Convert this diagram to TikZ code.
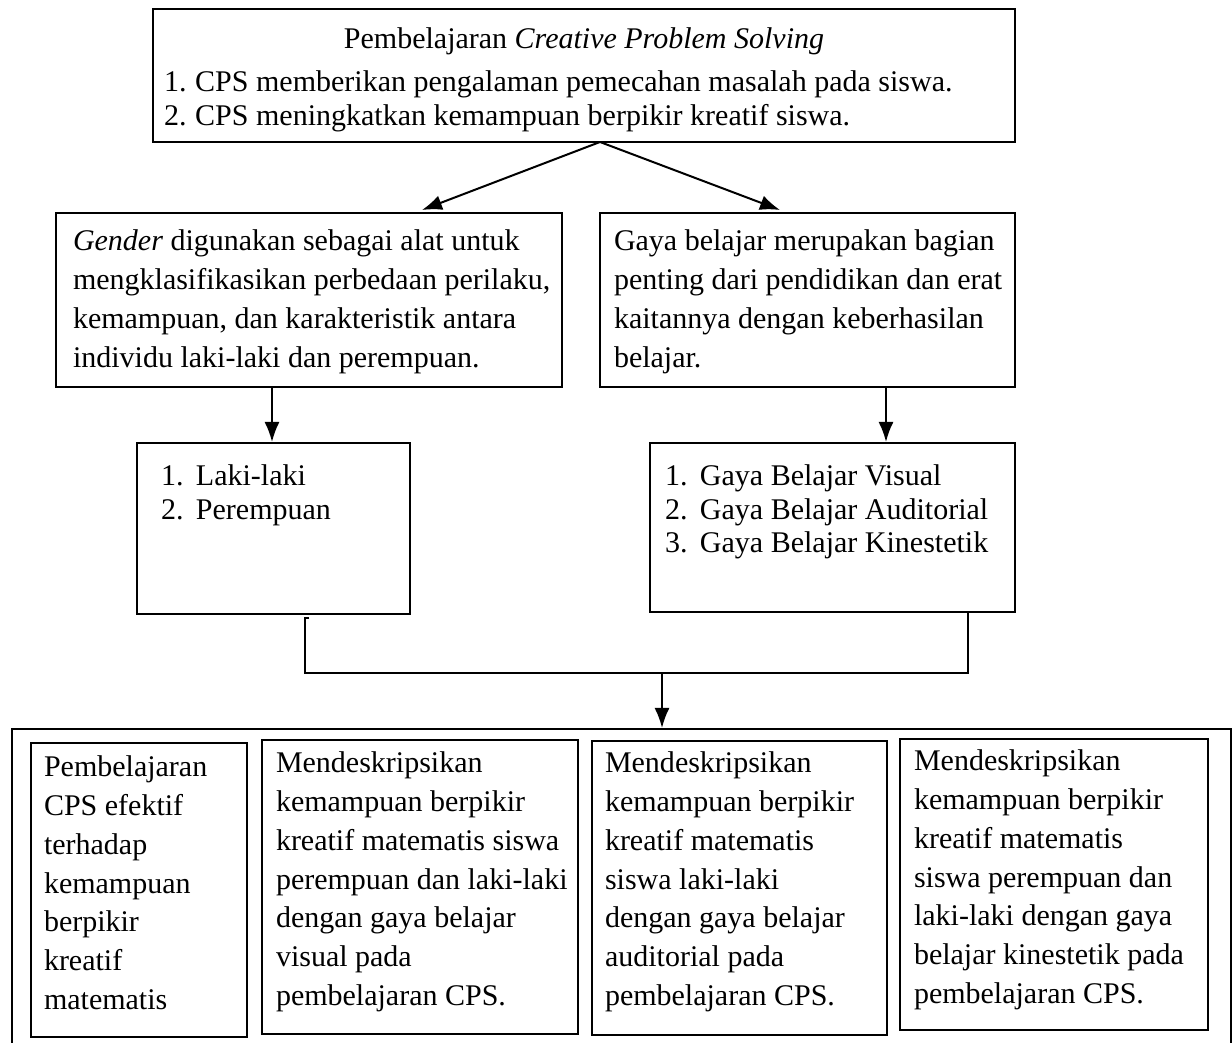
\documentclass[tikz,border=0pt]{standalone}
\usepackage{fontspec}
\setmainfont{Liberation Serif}
\usetikzlibrary{
  calc,
  positioning,
  arrows.meta,
  fit
}
\tikzset{>={Latex[length=8pt,width=6pt]}}
\tikzset{
  box/.style={draw, line width=0.8pt, inner sep=0pt},
  txt/.style={anchor=north west, inner sep=0pt, align=left, font=\fontsize{12}{15.5}\selectfont},
  lst/.style={txt, font=\fontsize{12}{13.4}\selectfont}
}
\newcommand{\nr}[1]{\makebox[12.5pt][l]{#1}}

\begin{document}
\begin{tikzpicture}[x=0.4pt, y=-0.4pt, line width=0.8pt]
      \useasboundingbox (0,0) rectangle (1232,1043);
      \clip (0,0) rectangle (1232,1043);

      % top box
      \node[box, fit={(153,9) (1015,142)}] (cps) {};
      \node[anchor=base, inner sep=0pt, font=\fontsize{12}{13.4}\selectfont] (cpstitle) at (584,49) {Pembelajaran \textit{Creative Problem Solving}};
      \node[lst] (cpslist) at (163,70) {\nr{1.}CPS memberikan pengalaman pemecahan masalah pada siswa.\\
        \nr{2.}CPS meningkatkan kemampuan berpikir kreatif siswa.};

      % gender + gaya belajar
      \node[box, fit={(56,213) (562,387)}] (gender) {};
      \node[txt] (gendertext) at (72,229) {\textit{Gender} digunakan sebagai alat untuk\\
        mengklasifikasikan perbedaan perilaku,\\
        kemampuan, dan karakteristik antara\\
        individu laki-laki dan perempuan.};
      \node[box, fit={(600,213) (1015,387)}] (gaya) {};
      \node[txt] (gayatext) at (613,229) {Gaya belajar merupakan bagian\\
        penting dari pendidikan dan erat\\
        kaitannya dengan keberhasilan\\
        belajar.};

      \coordinate (fork) at (600,142);
      \coordinate (tipl) at (422,210);
      \coordinate (tipr) at (780,210);
      \draw[->] (fork) -- (tipl);
      \draw[->] (fork) -- (tipr);

      % lists
      \node[box, fit={(137,443) (410,614)}] (jenis) {};
      \node[lst] (jenistext) at (160,464) {\nr{1.}\hspace{1.5pt}Laki-laki\\ \nr{2.}\hspace{1.5pt}Perempuan};
      \node[box, fit={(650,443) (1015,612)}] (tipe) {};
      \node[lst] (tipetext) at (664,464) {\nr{1.}\hspace{1.5pt}Gaya Belajar Visual\\
        \nr{2.}\hspace{1.5pt}Gaya Belajar Auditorial\\
        \nr{3.}\hspace{1.5pt}Gaya Belajar Kinestetik};

      \coordinate (downl) at (272,0);
      \coordinate (downr) at (886,0);
      \draw[->] (gender.south -| downl) -- (jenis.north -| downl);
      \draw[->] (gaya.south -| downr) -- (tipe.north -| downr);

      % joining line
      \coordinate (joinl) at (305,618);
      \coordinate (joinr) at (968,673);
      \coordinate (joinm) at (662,673);
      \draw ($(joinl)+(4,0)$) -- (joinl) |- (joinr) -- (tipe.south -| joinr);

      % outer box with the four results
      \node[box, fit={(12,729) (1231,1060)}] (hasil) {};
      \draw[->] (joinm) -- (hasil.north -| joinm);

      \node[box, fit={(31,743) (247,1037)}] (efektif) {};
      \node[txt] (efektiftext) at (43,755) {Pembelajaran\\ CPS efektif\\ terhadap\\ kemampuan\\ berpikir\\ kreatif\\ matematis};
      \node[box, fit={(262,740) (578,1034)}] (visual) {};
      \node[txt] (visualtext) at (275,751) {Mendeskripsikan\\ kemampuan berpikir\\ kreatif matematis siswa\\ perempuan dan laki-laki\\ dengan gaya belajar\\ visual pada\\ pembelajaran CPS.};
      \node[box, fit={(592,741) (887,1035)}] (auditorial) {};
      \node[txt] (auditorialtext) at (604,751) {Mendeskripsikan\\ kemampuan berpikir\\ kreatif matematis\\ siswa laki-laki\\ dengan gaya belajar\\ auditorial pada\\ pembelajaran CPS.};
      \node[box, fit={(900,739) (1208,1030)}] (kinestetik) {};
      \node[txt] (kinestetiktext) at (913,749) {Mendeskripsikan\\ kemampuan berpikir\\ kreatif matematis\\ siswa perempuan dan\\ laki-laki dengan gaya\\ belajar kinestetik pada\\ pembelajaran CPS.};
\end{tikzpicture}
\end{document}
